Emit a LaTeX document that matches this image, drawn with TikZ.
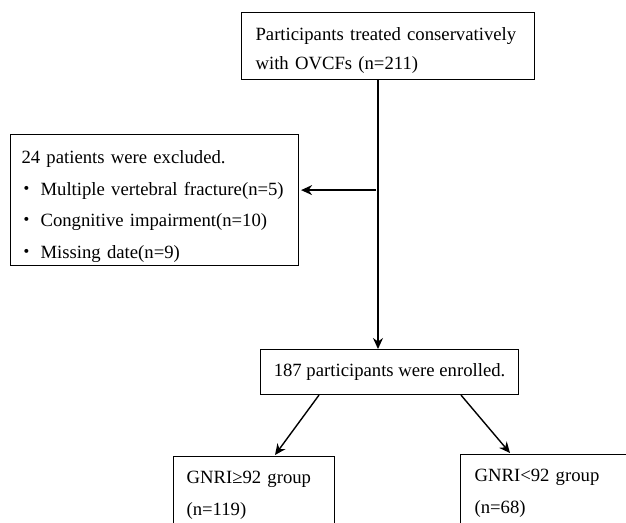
\documentclass[tikz,border=0pt]{standalone}
\usepackage{fontspec}
\setmainfont{Liberation Serif}
\newfontfamily\cjk{Noto Sans CJK JP}
\usetikzlibrary{arrows.meta,calc}
\newcommand{\bul}{\makebox[19pt][l]{\hspace{-4pt}{\cjk ・}}}
\begin{document}
\begin{tikzpicture}[x=1pt,y=-1pt,
  box/.style={draw,line width=1.1pt,rectangle,align=left,font=\fontsize{18.7}{32}\selectfont,anchor=north west},
  arr/.style={line width=1.4pt,-{Stealth[length=11pt,width=10pt]}}]
\useasboundingbox (0,0) rectangle (626,522);
\node[box,minimum width=286pt,minimum height=67pt,inner xsep=14pt,text width=265pt,font=\fontsize{18.7}{29.5}\selectfont] (top) at (241,12)
  {\rule{0pt}{22pt}Participants treated conservatively\\with OVCFs (n=211)};
\node[box,minimum width=288pt,minimum height=131pt,inner xsep=11pt,inner ysep=0pt,text width=266pt,font=\fontsize{18.7}{31.5}\selectfont] (exc) at (10,134)
  {\rule{0pt}{26pt}24 patients were excluded.\\\bul Multiple vertebral fracture(n=5)\\\bul Congnitive impairment(n=10)\\\bul Missing date(n=9)};
\node[box,minimum width=258pt,minimum height=45pt,align=center,inner xsep=2pt] (enr) at (260,349)
  {187 participants were enrolled.};
\node[box,minimum width=161pt,minimum height=90pt,inner xsep=13pt,text width=135pt] (g1) at (173,456)
  {GNRI≥92 group\\(n=119)\rule[-16pt]{0pt}{0pt}};
\node[box,minimum width=190pt,minimum height=90pt,inner xsep=14pt,text width=162pt] (g2) at (460,454)
  {GNRI<92 group\\(n=68)\rule[-16pt]{0pt}{0pt}};
\coordinate (j) at ($(top.south west)+(135,110)$);
\draw[arr] ($(top.south west)+(137,0)$) -- ($(enr.north west)+(118,0)$);
\draw[arr] (j) -- ($(j -| exc.east)+(2,0)$);
\draw[arr] ($(enr.south west)+(59,0)$) -- ($(g1.north west)+(102,-1)$);
\draw[arr] ($(enr.south west)+(201,0)$) -- ($(g2.north west)+(50,-1)$);
\end{tikzpicture}
\end{document}
